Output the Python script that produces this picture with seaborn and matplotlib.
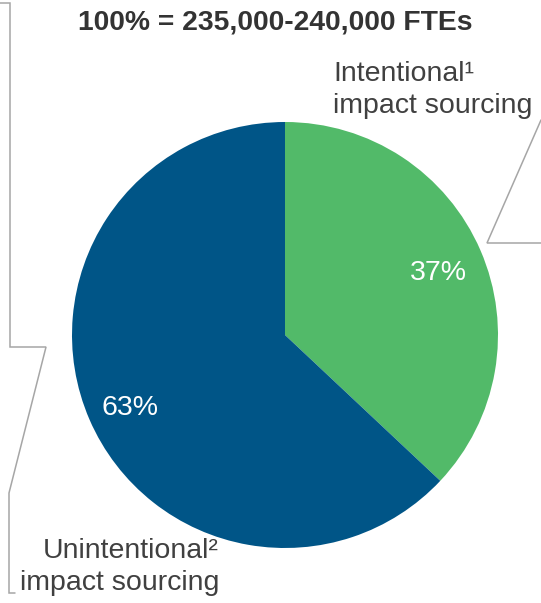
import numpy as np
import matplotlib
matplotlib.use("Agg")
import matplotlib.pyplot as plt
import seaborn as sns

# Data
segments = ["Intentional", "Unintentional"]
shares = [37, 63]
seg_colors = ["#52BA69", "#005587"]
title_text = "100% = 235,000-240,000 FTEs"
label_intentional = "Intentional\u00b9\nimpact sourcing"
label_unintentional = "Unintentional\u00b2\nimpact sourcing"

sns.set_theme(style="white")
plt.rcParams["font.family"] = ["Liberation Sans", "DejaVu Sans"]

W, H = 541, 603
fig = plt.figure(figsize=(W / 100, H / 100), dpi=100)

# pie axes: center (285, 335) px, radius 213 px
cx, cy, r = 285, 335, 213
ax = fig.add_axes([(cx - r) / W, (H - cy - r) / H, 2 * r / W, 2 * r / H])
wedges, texts, autotexts = ax.pie(
    shares, colors=seg_colors, startangle=90, counterclock=False,
    autopct="%d%%", pctdistance=0.78, radius=1,
    wedgeprops=dict(linewidth=0),
    textprops=dict(color="white", fontsize=20.5))
# small nudges so the percent labels sit like the original
px = 1 / r
for t, (dx, dy) in zip(autotexts, [(1, -4), (-3, -7)]):
    x0, y0 = t.get_position()
    t.set_position((x0 + dx * px, y0 + dy * px))
ax.set_xlim(-1, 1)
ax.set_ylim(-1, 1)
ax.set_aspect("equal")
ax.axis("off")

# overlay axes in pixel coordinates for leader lines and labels
ov = fig.add_axes([0, 0, 1, 1], facecolor="none")
ov.set_xlim(0, W)
ov.set_ylim(H, 0)
ov.axis("off")

line_kw = dict(color="#A6A6A6", lw=1.1, solid_joinstyle="miter")
ov.plot([0, 10, 10, 46, 9, 9, 15], [3, 3, 347, 347, 493, 593, 593], **line_kw)
ov.plot([541, 487, 541], [120, 243, 243], **line_kw)

ov.text(275, 22, title_text, ha="center", va="center", fontsize=20.3,
        fontweight="bold", color="#333333")
ov.text(333, 90, label_intentional, ha="left", va="center", fontsize=20.5,
        color="#404040", linespacing=1.28)
ov.text(219, 567, label_unintentional, ha="right", va="center", fontsize=20.5,
        color="#404040", linespacing=1.28)

fig.savefig("out.png", dpi=100)
